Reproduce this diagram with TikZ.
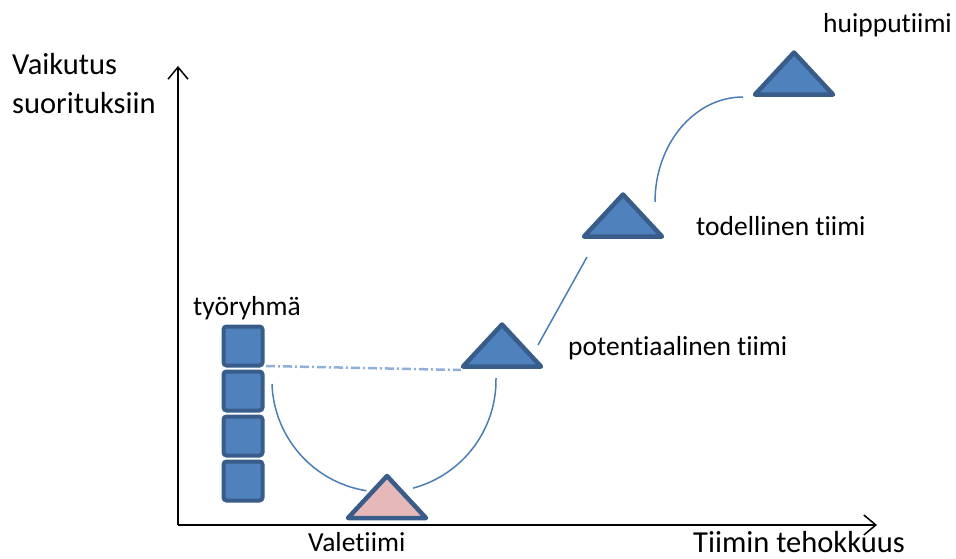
\documentclass[tikz,border=0pt]{standalone}
\usepackage{fontspec}
\setmainfont{Carlito}[Ligatures=NoCommon]
\usetikzlibrary{shapes.geometric,arrows.meta,positioning}
\definecolor{tiimiblue}{HTML}{4F81BD}
\definecolor{tiimiedge}{HTML}{385D8A}
\definecolor{tiimipink}{HTML}{E6B9B8}
\definecolor{linkblue}{HTML}{4A7EBB}
\definecolor{dashblue}{HTML}{8EB0DA}
\tikzstyle{member} = [rectangle, rounded corners=3pt, minimum width=39pt, minimum height=39pt,
inner sep=0pt, fill=tiimiblue, draw=tiimiedge, line width=4pt]
\tikzstyle{team} = [isosceles triangle, isosceles triangle stretches, shape border rotate=90,
minimum width=78pt, minimum height=42pt, inner sep=0pt, fill=tiimiblue, draw=tiimiedge,
line width=4.5pt, line join=round]
\tikzstyle{lbl} = [inner sep=0pt, anchor=base west, font=\fontsize{27.5}{33}\selectfont]
\tikzstyle{axislbl} = [inner sep=0pt, anchor=base west, font=\fontsize{30.5}{36}\selectfont]
\tikzstyle{link} = [draw=linkblue, line width=1.5pt]
\tikzstyle{axis} = [draw=black, line width=1.5pt, -{Straight Barb[length=12pt,width=20pt]}]

\begin{document}
\begin{tikzpicture}[x=1pt, y=-1pt]
            \useasboundingbox (0,0) rectangle (956,559);

            % Axes
            \coordinate (origin) at (178,525);
            \draw[axis] (origin) -- (178,66);
            \draw[axis] (origin) -- (877,525);
            \node(ylbl1) [axislbl] at (12,75) {Vaikutus};
            \node(ylbl2) [axislbl] at (12,114) {suorituksiin};
            \node(xlbl) [axislbl] at (693,552) {Tiimin tehokkuus};

            % Work group
            \node(sq1) [member] at (243,346) {};
            \node(sq2) [member, below=2pt of sq1] {};
            \node(sq3) [member, below=2pt of sq2] {};
            \node(sq4) [member, below=2pt of sq3] {};
            \node(ryhma) [lbl] at (193,315) {työryhmä};

            % Teams
            \node(vale) [team, fill=tiimipink] at (387,501) {};
            \node(pot) [team] at (502,349.5) {};
            \node(tod) [team] at (623,219.5) {};
            \node(huippu) [team] at (794,77.5) {};

            % Draw Labels
            \node(valelbl) [lbl] at (308,551) {Valetiimi};
            \node(potlbl) [lbl] at (568,355) {potentiaalinen tiimi};
            \node(todlbl) [lbl] at (696,235) {todellinen tiimi};
            \node(huippulbl) [lbl] at (823,33) {huipputiimi};

            % Draw Lines
            \draw[draw=dashblue, line width=2.5pt, dash pattern=on 9pt off 3pt on 2pt off 3pt]
                ([xshift=23pt,yshift=-20pt]sq1.center) -- ([xshift=-41pt,yshift=-20.5pt]pot.center);
            \draw[link] ([xshift=29pt,yshift=7pt]sq2.center) arc[start angle=178, end angle=99, radius=112];
            \draw[link] ([xshift=-6pt,yshift=-28.5pt]pot.center) arc[start angle=-1, end angle=75, radius=112];
            \draw[link] ([xshift=36pt,yshift=4.5pt]pot.center) -- ([xshift=-36pt,yshift=-37.5pt]tod.center);
            \draw[link] ([xshift=32pt,yshift=17.5pt]tod.center) arc[start angle=180, end angle=270, x radius=88, y radius=105];

\end{tikzpicture}
\end{document}
